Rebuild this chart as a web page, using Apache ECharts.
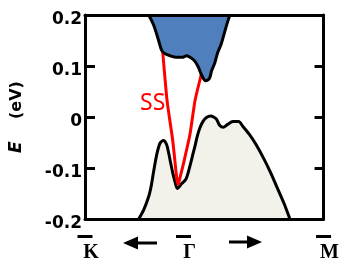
<!DOCTYPE html>
<html><head><meta charset="utf-8">
<script src="https://cdn.jsdelivr.net/npm/echarts@6/dist/echarts.min.js"></script>
<style>html,body{margin:0;padding:0;background:#fff}#c{width:342px;height:265px}</style>
</head><body><div id="c"></div>
<script>
// k-path positions (K = 0, M = 1)
const kPoints = [0, 0.413, 1];
const kLabels = ['K', 'Γ', 'M'];
const yTicks = [-0.2, -0.1, 0, 0.1, 0.2];

// conduction band lower edge (filled up to top)
const cbK = [0.267,0.288,0.308,0.322,0.336,0.357,0.382,0.407,0.426,0.444,0.461,0.475,0.486,0.498,0.506,0.516,0.523,0.531,0.544,0.556,0.571,0.585,0.598,0.608];
const cbE = [0.200,0.180,0.151,0.130,0.124,0.120,0.117,0.117,0.120,0.116,0.109,0.098,0.085,0.074,0.071,0.073,0.077,0.091,0.106,0.126,0.143,0.166,0.187,0.200];

// valence band upper edge (filled down to bottom)
const vbK = [0.225,0.246,0.267,0.278,0.288,0.302,0.315,0.329,0.342,0.351,0.359,0.369,0.378,0.387,0.405,0.423,0.440,0.450,0.461,0.471,0.481,0.494,0.509,0.527,0.539,0.551,0.564,0.581,0.599,0.620,0.644,0.661,0.689,0.717,0.751,0.779,0.806,0.834,0.859];
const vbE = [-0.200,-0.182,-0.156,-0.134,-0.106,-0.071,-0.051,-0.046,-0.054,-0.071,-0.090,-0.112,-0.128,-0.140,-0.131,-0.122,-0.096,-0.077,-0.057,-0.037,-0.022,-0.009,-0.001,0.002,0.000,-0.004,-0.016,-0.020,-0.014,-0.009,-0.009,-0.018,-0.034,-0.054,-0.083,-0.110,-0.139,-0.169,-0.200];

// surface state (SS)
const ssK = [0.322,0.325,0.344,0.368,0.385,0.391,0.395,0.412,0.440,0.461,0.484,0.490];
const ssE = [0.138,0.131,0.032,-0.047,-0.122,-0.132,-0.125,-0.093,-0.034,0.032,0.077,0.088];

const zip = (a, b) => a.map((v, i) => [v, b[i]]);
const chart = echarts.init(document.getElementById('c'), null, {renderer: 'canvas'});
const axisLine = {show: true, onZero: false, lineStyle: {color: '#000', width: 3}};
chart.setOption({
  animation: false,
  grid: {left: 84, right: 17, top: 15, bottom: 46},
  xAxis: [{
    type: 'value', min: 0, max: 1, position: 'bottom', z: 10,
    axisLine: axisLine, axisTick: {show: false}, splitLine: {show: false},
    axisLabel: {
      customValues: kPoints, margin: 16,
      formatter: v => { const i = kPoints.indexOf(v); return '{bar| }\n{t|' + kLabels[i] + '}'; },
      rich: {
        bar: {width: 15, height: 3, lineHeight: 3, fontSize: 2, backgroundColor: '#000'},
        t: {fontFamily: 'Liberation Serif', fontWeight: 'bold', fontSize: 20, lineHeight: 30, color: '#000', padding: [0, 0, 0, 12]}
      }
    }
  }, {
    type: 'value', min: 0, max: 1, position: 'top', z: 10,
    axisLine: axisLine, axisTick: {show: false}, axisLabel: {show: false}, splitLine: {show: false}
  }],
  yAxis: [{
    type: 'value', min: -0.2, max: 0.2, interval: 0.1, position: 'left', z: 10,
    axisLine: axisLine,
    axisTick: {show: true, inside: true, length: 10, lineStyle: {color: '#000', width: 3}},
    splitLine: {show: false},
    axisLabel: {margin: 3, color: '#000', fontFamily: 'DejaVu Sans', fontWeight: 'bold', fontSize: 17,
      verticalAlign: 'top', lineHeight: 9,
      formatter: v => String(Math.round(v * 10) / 10)},
    name: '{e|E}{u|    (eV)}', nameLocation: 'middle', nameGap: 60, nameRotate: 90,
    nameTextStyle: {rich: {
      e: {fontFamily: 'DejaVu Sans', fontWeight: 'bold', fontStyle: 'italic', fontSize: 17, color: '#000'},
      u: {fontFamily: 'DejaVu Sans', fontWeight: 'bold', fontSize: 16, color: '#000'}
    }}
  }, {
    type: 'value', min: -0.2, max: 0.2, interval: 0.1, position: 'right', z: 10,
    axisLine: axisLine,
    axisTick: {show: true, inside: true, length: 9, lineStyle: {color: '#000', width: 3}},
    axisLabel: {show: false}, splitLine: {show: false}
  }],
  series: [{
    type: 'line', z: 2, data: zip(vbK, vbE), showSymbol: false, smooth: 0.3,
    lineStyle: {color: '#000', width: 3},
    areaStyle: {color: '#f2f1ea', opacity: 1, origin: 'start'}
  }, {
    type: 'line', z: 3, data: zip(ssK, ssE), showSymbol: false, smooth: 0.2,
    lineStyle: {color: '#ff0000', width: 3}
  }, {
    type: 'line', z: 4, data: zip(cbK, cbE), showSymbol: false, smooth: 0.3,
    lineStyle: {color: '#000', width: 3},
    areaStyle: {color: '#4f7fbc', opacity: 1, origin: 'end'}
  }],
  graphic: [
    {type: 'text', left: 140, top: 92, style: {text: 'SS', fill: '#ff0000', font: '23px "Noto Sans"'}},
    {type: 'polygon', shape: {points: [[123,243],[138,236.5],[138,241.5],[157,241.5],[157,244.5],[138,244.5],[138,249.5]]}, style: {fill: '#000'}},
    {type: 'polygon', shape: {points: [[262,242],[247,235.5],[247,240.5],[229,240.5],[229,243.5],[247,243.5],[247,248.5]]}, style: {fill: '#000'}}
  ]
});
</script></body></html>
